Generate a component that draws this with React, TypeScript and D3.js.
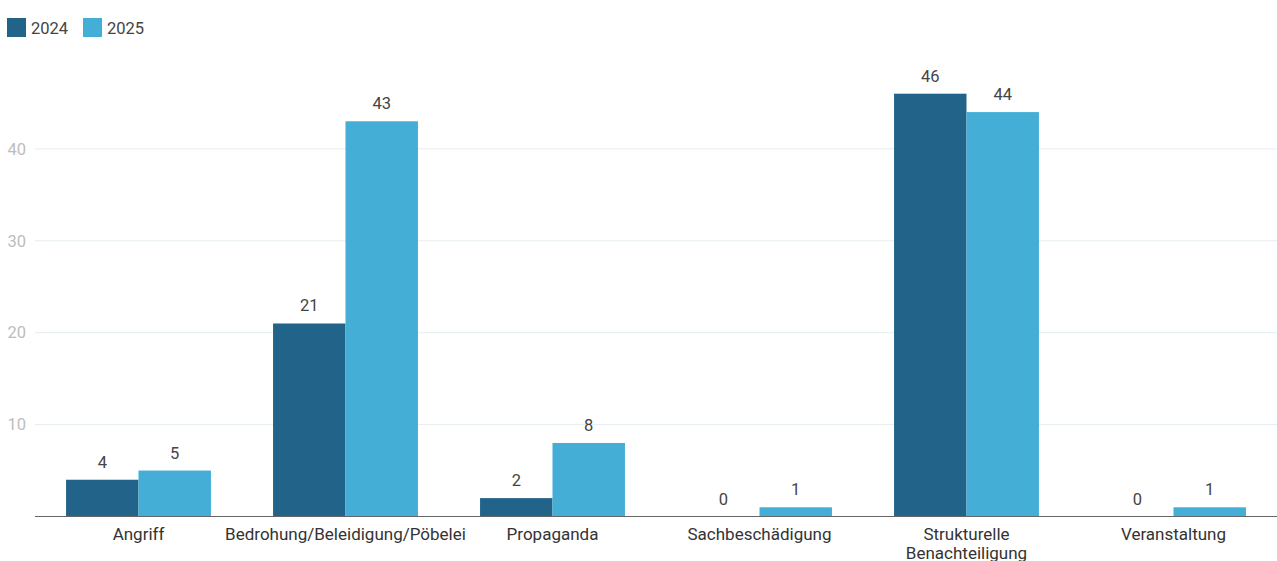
import React, { useEffect } from "react";
import * as d3 from "d3";

const categories = [
  "Angriff",
  "Bedrohung/Beleidigung/Pöbelei",
  "Propaganda",
  "Sachbeschädigung",
  "Strukturelle Benachteiligung",
  "Veranstaltung",
];
const categoryLines: string[][] = [
  ["Angriff"],
  ["Bedrohung/Beleidigung/Pöbelei"],
  ["Propaganda"],
  ["Sachbeschädigung"],
  ["Strukturelle", "Benachteiligung"],
  ["Veranstaltung"],
];
const seriesNames = ["2024", "2025"];
const values2024 = [4, 21, 2, 0, 46, 0];
const values2025 = [5, 43, 8, 1, 44, 1];
const yTicks = [10, 20, 30, 40];
const colors = ["#226389", "#45aed6"];

const W = 1277;
const H = 561;
const FONT = "Roboto, 'Noto Sans', sans-serif";

export default function App() {
  useEffect(() => {
    document.body.style.margin = "0";
  }, []);

  const x0 = d3
    .scaleBand<string>()
    .domain(categories)
    .range([35, 1277])
    .paddingInner(0.3)
    .paddingOuter(0.15);
  const x1 = d3
    .scaleBand<string>()
    .domain(seriesNames)
    .range([0, x0.bandwidth()])
    .padding(0);
  const y = d3.scaleLinear().domain([0, 46]).range([516.5, 93.7]);

  const series = [values2024, values2025];

  return (
    <svg width={W} height={H} style={{ display: "block", background: "#fff" }} fontFamily={FONT}>
      {/* legend */}
      {seriesNames.map((s, i) => (
        <g key={s} transform={`translate(${7 + i * 76},18)`}>
          <rect width={19} height={19} fill={colors[i]} />
          <text x={24} y={15.5} fontSize={16.5} fill="#444">
            {s}
          </text>
        </g>
      ))}
      {/* grid */}
      {yTicks.map((t) => (
        <g key={t}>
          <line x1={35} x2={1277} y1={y(t)} y2={y(t)} stroke="#e6eef0" strokeWidth={1} />
          <text x={26} y={y(t)} dy="0.35em" textAnchor="end" fontSize={16.5} fill="#bdbdbd">
            {t}
          </text>
        </g>
      ))}
      {/* bars */}
      {categories.map((c, ci) => (
        <g key={c} transform={`translate(${x0(c)},0)`}>
          {seriesNames.map((s, si) => {
            const v = series[si][ci];
            const bx = x1(s)!;
            return (
              <g key={s}>
                <rect
                  x={bx}
                  y={y(v)}
                  width={x1.bandwidth()}
                  height={y(0) - y(v)}
                  fill={colors[si]}
                />
                <text
                  x={bx + x1.bandwidth() / 2}
                  y={y(v) - 12}
                  textAnchor="middle"
                  fontSize={16.5}
                  fill="#444"
                >
                  {v}
                </text>
              </g>
            );
          })}
        </g>
      ))}
      {/* baseline */}
      <line x1={35} x2={1277} y1={y(0)} y2={y(0)} stroke="#666" strokeWidth={1.2} />
      {/* category labels */}
      {categories.map((c, ci) => (
        <text
          key={c}
          x={x0(c)! + x0.bandwidth() / 2}
          y={540}
          textAnchor="middle"
          fontSize={17}
          fill="#333"
        >
          {categoryLines[ci].map((l, li) => (
            <tspan key={li} x={x0(c)! + x0.bandwidth() / 2} dy={li === 0 ? 0 : 18.5}>
              {l}
            </tspan>
          ))}
        </text>
      ))}
    </svg>
  );
}
